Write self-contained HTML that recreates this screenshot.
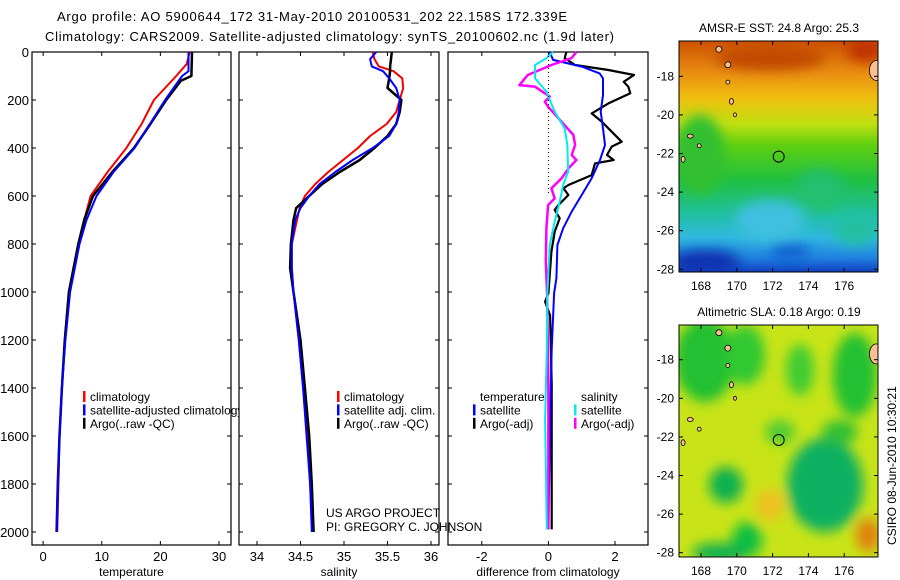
<!DOCTYPE html>
<html><head><meta charset="utf-8"><style>
html,body{margin:0;padding:0;background:#fff;}
svg{display:block;font-family:"Liberation Sans",sans-serif;}
</style></head><body>
<svg id="fig" width="900" height="580" viewBox="0 0 900 580" xmlns="http://www.w3.org/2000/svg">
<defs>
<filter id="blur6" x="-50%" y="-50%" width="200%" height="200%"><feGaussianBlur stdDeviation="6"/></filter>
<linearGradient id="sstGrad" x1="0" y1="0" x2="0" y2="1">
<stop offset="0" stop-color="#cc5000"/><stop offset="0.13" stop-color="#e88a10"/>
<stop offset="0.25" stop-color="#f0c010"/><stop offset="0.36" stop-color="#c0e010"/>
<stop offset="0.45" stop-color="#60d010"/><stop offset="0.6" stop-color="#20c040"/>
<stop offset="0.75" stop-color="#20c0a0"/><stop offset="0.85" stop-color="#30b8e0"/>
<stop offset="0.94" stop-color="#2080e0"/><stop offset="1" stop-color="#1040c0"/>
</linearGradient>
<clipPath id="clipSst"><rect x="679" y="41" width="199" height="231"/></clipPath>
<clipPath id="clipSla"><rect x="679" y="325" width="199" height="232"/></clipPath>
</defs>
<text x="57" y="21" font-size="13" textLength="510">Argo profile: AO 5900644_172 31-May-2010 20100531_202 22.158S 172.339E</text>
<text x="45" y="41" font-size="13" textLength="569">Climatology: CARS2009. Satellite-adjusted climatology: synTS_20100602.nc (1.9d later)</text>
<g id="panels"></g>
<g id="maps"></g>
<text transform="translate(896,545) rotate(-90)" font-size="12">CSIRO 08-Jun-2010 10:30:21</text>
</svg>
<script>
// ---- data ----
const tempClimDepth = [0,50,100,200,300,400,500,600,700,800,1000,1200,1400,1600,1800,2000];
const tempClim      = [25,24.5,22.7,18.9,16.8,14.2,11.0,8.1,7.0,6.1,4.4,3.7,3.2,2.8,2.6,2.4];
const tempSatDepth  = [0,80,100,200,300,400,500,600,700,800,1000,1200,1400,1600,1800,2000];
const tempSat       = [24.8,24.8,23.7,20.8,18.2,15.6,12.0,9.1,7.4,6.2,4.6,3.8,3.2,2.8,2.5,2.3];
const tempArgoDepth = [0,100,120,200,300,400,500,600,700,800,1000,1200,1400,1600,1800,2000];
const tempArgo      = [25.4,25.3,23.5,21.0,18.3,15.5,11.8,8.5,7.0,6.0,4.4,3.7,3.2,2.8,2.5,2.3];

const salDepth      = [0,30,60,80,110,150,200,250,300,350,400,450,500,550,600,650,700,800,900,1000,1200,1400,1600,1800,2000];
const salClim       = [35.33,35.35,35.4,35.57,35.67,35.68,35.64,35.6,35.49,35.3,35.16,34.99,34.82,34.67,34.55,34.49,34.46,34.4,34.4,34.42,34.48,34.53,34.58,34.61,34.64];
const salSat        = [35.37,35.3,35.32,35.45,35.52,35.6,35.64,35.63,35.6,35.52,35.33,35.1,34.9,34.72,34.6,34.5,34.44,34.4,34.4,34.42,34.48,34.53,34.57,34.61,34.63];
const salArgo       = [35.55,35.54,35.53,35.53,35.52,35.5,35.66,35.64,35.6,35.5,35.35,35.18,34.95,34.75,34.6,34.45,34.42,34.39,34.38,34.42,34.5,34.55,34.6,34.63,34.65];

const dTempSatDepth  = [0,33,61,89,110,180,249,318,388,450,526,596,665,735,804,943,1005,1241,1529,1989];
const dTempSat       = [0.04,0.14,1.0,1.54,1.64,1.64,1.57,1.64,1.7,1.55,1.3,1.0,0.7,0.44,0.27,0.24,0.17,0.1,0.05,0.0];
const dTempArgoDepth = [0,26,54,75,96,124,144,172,214,256,290,332,374,394,429,450,464,513,554,568,596,638,658,693,749,832,1005,1040,1098,1385,1989];
const dTempArgo      = [0.54,0.49,0.8,1.8,2.57,2.26,2.4,2.46,1.8,1.3,1.6,1.9,2.2,1.9,1.76,1.96,1.4,1.3,0.6,0.45,0.6,0.3,0.19,0.34,0.19,0.09,0.0,-0.1,0.05,0.1,0.1];
const dSalSatDepth   = [0,26,54,110,165,249,318,388,499,554,624,707,804,1005,1241,1529,1989];
const dSalSat        = [0.14,-0.06,-0.4,-0.4,-0.06,0.19,0.49,0.57,0.59,0.44,0.34,0.19,0.04,-0.03,-0.05,-0.1,-0.05];
const dSalArgoDepth  = [0,26,54,96,138,144,186,207,228,290,346,388,429,450,485,526,568,610,638,735,874,1005,1400,1989];
const dSalArgo       = [0.84,0.69,0.09,-0.62,-0.87,-0.41,0.04,-0.11,-0.01,0.39,0.75,0.8,0.7,0.84,0.6,0.4,0.09,0.19,-0.01,-0.06,-0.08,-0.04,0.0,0.0];

const depthTicks = [0,200,400,600,800,1000,1200,1400,1600,1800,2000];
const tempTicks = [0,10,20,30];
const salTicks = [34,34.5,35,35.5,36];
const diffTicks = [-2,0,2];
const lonTicks = [168,170,172,174,176];
const latTicks = [-18,-20,-22,-24,-26,-28];

const NS = "http://www.w3.org/2000/svg";
function mk(tag, attrs, parent){const e=document.createElementNS(NS,tag);for(const k in attrs)e.setAttribute(k,attrs[k]);parent.appendChild(e);return e;}
const yDepth = d => 52 + d*0.24;
const PT=52, PB=545;
const panelsG=document.getElementById('panels');

function panel(name, x0, x1, xmin, xmax, ticks, label, series, showDepthLabels){
  const g=mk('g',{},panelsG);
  
  
  const sx = v => x0 + (v-xmin)/(xmax-xmin)*(x1-x0);
  const frame=mk('rect',{x:x0,y:PT,width:x1-x0,height:PB-PT,fill:'#fff',stroke:'#000','stroke-width':1.2},g);
  
  
  depthTicks.forEach(d=>{
    const y=yDepth(d);
    mk('line',{x1:x0,x2:x0+4,y1:y,y2:y,stroke:'#000'},g);
    mk('line',{x1:x1,x2:x1-4,y1:y,y2:y,stroke:'#000'},g);
    if(showDepthLabels){
      const t=mk('text',{x:x0-3,y:y+5,'font-size':13,'text-anchor':'end'},g);
      t.textContent=d;
      
      
    }
  });
  ticks.forEach(v=>{
    const x=sx(v);
    mk('line',{x1:x,x2:x,y1:PB,y2:PB-4,stroke:'#000'},g);
    mk('line',{x1:x,x2:x,y1:PT,y2:PT+4,stroke:'#000'},g);
    const t=mk('text',{x:x,y:PB+16,'font-size':13,'text-anchor':'middle'},g);
    t.textContent=v;
    
    
  });
  const xl=mk('text',{x:(x0+x1)/2,y:PB+31,'font-size':12,'text-anchor':'middle'},g);
  xl.textContent=label;
  
  
  series.forEach(s=>{
    const pts=s.vals.map((v,i)=>sx(v).toFixed(1)+','+yDepth(s.depth[i]).toFixed(1)).join(' ');
    const p=mk('polyline',{points:pts,fill:'none',stroke:s.color,'stroke-width':s.w||2,'stroke-linejoin':'round'},g);
    
    
  });
  return {g,sx};
}
function legend(g, x, y, items){
  items.forEach((it,i)=>{
    const yy=y+i*13.4;
    if(it.color){ mk('rect',{x:x,y:yy-10,width:2.5,height:11,fill:it.color},g); }
    const t=mk('text',{x:x+7,y:yy,'font-size':12},g);
    t.textContent=it.text;
    
    
  });
}

const p1=panel('temperature-panel',32,231,-1.9,32.05,tempTicks,'temperature',[
  {name:'temp-climatology-line',depth:tempClimDepth,vals:tempClim,color:'#f00000'},
  {name:'temp-argo-line',depth:tempArgoDepth,vals:tempArgo,color:'#000',w:2.5},
  {name:'temp-satellite-line',depth:tempSatDepth,vals:tempSat,color:'#0000ff'}],true);
legend(p1.g,83,401,[{color:'#f00',text:'climatology'},{color:'#00f',text:'satellite-adjusted climatology'},{color:'#000',text:'Argo(..raw -QC)'}]);

const p2=panel('salinity-panel',239,439,33.793,36.092,salTicks,'salinity',[
  {name:'sal-climatology-line',depth:salDepth,vals:salClim,color:'#f00000'},
  {name:'sal-argo-line',depth:salDepth,vals:salArgo,color:'#000',w:2.5},
  {name:'sal-satellite-line',depth:salDepth,vals:salSat,color:'#0000ff'}],false);
legend(p2.g,337,401,[{color:'#f00',text:'climatology'},{color:'#00f',text:'satellite adj. clim.'},{color:'#000',text:'Argo(..raw -QC)'}]);

const p3=panel('difference-panel',448,648,-3.015,2.99,diffTicks,'difference from climatology',[
  {name:'diff-temp-argo-line',depth:dTempArgoDepth,vals:dTempArgo,color:'#000',w:2.2},
  {name:'diff-temp-satellite-line',depth:dTempSatDepth,vals:dTempSat,color:'#0000ff'},
  {name:'diff-sal-argo-line',depth:dSalArgoDepth,vals:dSalArgo,color:'#ff00ff',w:2.5},
  {name:'diff-sal-satellite-line',depth:dSalSatDepth,vals:dSalSat,color:'#00e8f0'}],false);
const zx=p3.sx(0);
const zl=mk('line',{x1:zx,x2:zx,y1:PT,y2:yDepth(600),stroke:'#000','stroke-dasharray':'1,3'},p3.g);

legend(p3.g,473,401,[{text:'temperature'},{color:'#00f',text:'satellite'},{color:'#000',text:'Argo(-adj)'}]);
legend(p3.g,574,401,[{text:'salinity'},{color:'#00e8f0',text:'satellite'},{color:'#f0f',text:'Argo(-adj)'}]);

const pr=mk('text',{x:326,y:517,'font-size':12},panelsG);pr.textContent='US ARGO PROJECT';

const pi=mk('text',{x:326,y:531,'font-size':12},panelsG);pi.textContent='PI: GREGORY C. JOHNSON';


// ---- maps ----
const mapsG=document.getElementById('maps');
const lonX = lon => 701 + (lon-168)*17.9;
function mapPanel(name, top, bottom, lat18, title, fillFn, clip){
  const g=mk('g',{},mapsG);
  
  
  const latY = lat => lat18 + (-18-lat)*19.3;
  const cg=mk('g',{'clip-path':'url(#'+clip+')'},g);
  fillFn(cg, top, bottom);
  const isl=[[169.0,-16.6,3,3],[169.5,-17.4,3,3],[169.5,-18.3,2,2],[169.7,-19.3,2,3],[169.9,-20.0,1.5,2],[167.4,-21.1,3,2],[167.9,-21.6,2,2],[167.0,-22.3,2,3],[177.8,-17.7,7,10]];
  isl.forEach(s=>{mk('ellipse',{cx:lonX(s[0]),cy:latY(s[1]),rx:s[2],ry:s[3],fill:'#fcc090',stroke:'#000','stroke-width':0.8},cg);});
  const c=mk('circle',{cx:lonX(172.34),cy:latY(-22.16),r:5.5,fill:'none',stroke:'#000','stroke-width':1},g);
  
  mk('rect',{x:679,y:top,width:199,height:bottom-top,fill:'none',stroke:'#000','stroke-width':1},g);
  lonTicks.forEach(l=>{const x=lonX(l);
    mk('line',{x1:x,x2:x,y1:bottom,y2:bottom-4,stroke:'#000'},g);
    mk('line',{x1:x,x2:x,y1:top,y2:top+4,stroke:'#000'},g);
    const t=mk('text',{x:x,y:bottom+18,'font-size':12,'text-anchor':'middle'},g);t.textContent=l;
    });
  latTicks.forEach(l=>{const y=latY(l);
    mk('line',{x1:679,x2:683,y1:y,y2:y,stroke:'#000'},g);
    mk('line',{x1:878,x2:874,y1:y,y2:y,stroke:'#000'},g);
    const t=mk('text',{x:674,y:y+4,'font-size':12,'text-anchor':'end'},g);t.textContent=l;
    });
  const tt=mk('text',{x:779,y:top-9,'font-size':12,'text-anchor':'middle'},g);tt.textContent=title;
  
}
mapPanel('sst-map',41,272,76.3,'AMSR-E SST: 24.8 Argo: 25.3',(cg,top,bottom)=>{
  mk('rect',{x:679,y:top,width:199,height:bottom-top,fill:'url(#sstGrad)'},cg);
  const b=mk('g',{filter:'url(#blur6)'},cg);
  [[770,58,55,12,'#c04800'],[865,50,18,12,'#c03000'],[700,155,25,40,'#30c030'],[820,190,25,20,'#20c070'],[770,220,35,20,'#40c0e0'],[855,230,22,15,'#20c0a0'],[705,262,35,12,'#0830b0'],[790,252,20,8,'#1060d0']].forEach(e=>mk('ellipse',{cx:e[0],cy:e[1],rx:e[2],ry:e[3],fill:e[4]},b));
},'clipSst');
mapPanel('sla-map',325,557,359.7,'Altimetric SLA: 0.18 Argo: 0.19',(cg,top,bottom)=>{
  mk('rect',{x:679,y:top,width:199,height:bottom-top,fill:'#c8e418'},cg);
  const b=mk('g',{filter:'url(#blur6)'},cg);
  [[705,360,30,42,'#20c030'],[745,355,20,30,'#30c830'],[800,370,14,26,'#40cc30'],[855,375,22,42,'#20c030'],[726,485,17,18,'#10b050'],[825,485,38,47,'#10b060'],[770,505,14,16,'#f0c020'],[747,540,15,18,'#10c040'],[720,553,28,10,'#10b050'],[868,535,12,17,'#e08010'],[840,432,18,12,'#30c030'],[780,432,15,12,'#50cc30']].forEach(e=>mk('ellipse',{cx:e[0],cy:e[1],rx:e[2],ry:e[3],fill:e[4]},b));
},'clipSla');
</script>
</body></html>
